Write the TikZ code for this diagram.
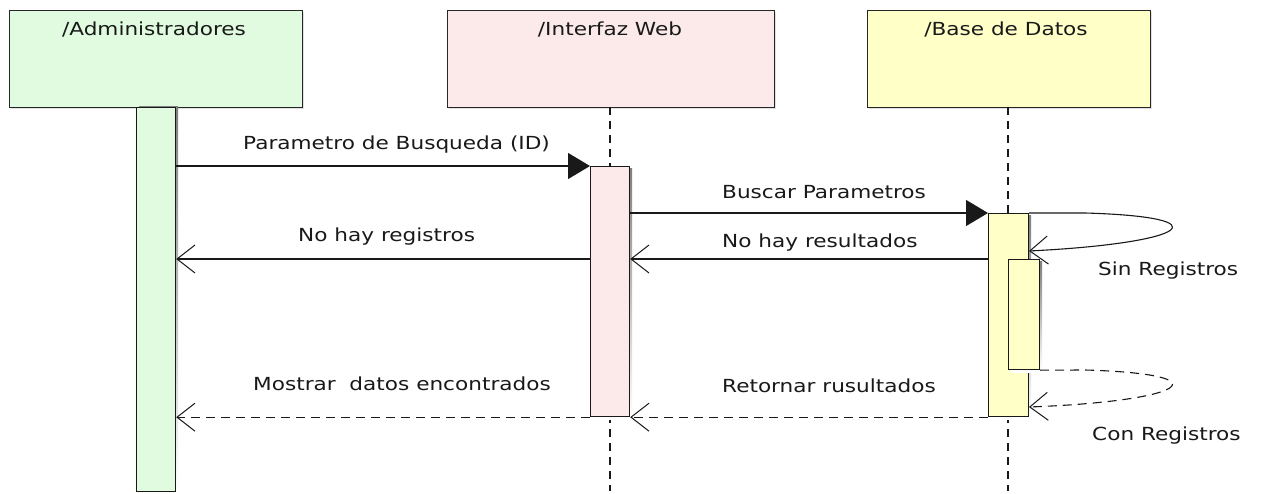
\documentclass[tikz,border=0pt]{standalone}
\usepackage{fontspec}
\setmainfont{DejaVu Sans}
\newfontfamily\lblfont[FakeStretch=1.2]{DejaVu Sans}
\usetikzlibrary{arrows.meta}
\definecolor{agreen}{RGB}{224,251,224}
\definecolor{ipink}{RGB}{252,234,234}
\definecolor{dyellow}{RGB}{255,255,200}
\definecolor{shade}{RGB}{205,205,205}
\tikzset{
  head/.style={draw=black!85, line width=1.3pt, anchor=north west, inner sep=0pt},
  bar/.style={draw=black!90, line width=1.2pt, anchor=north west, inner sep=0pt},
  lifeline/.style={black!90, line width=1.1pt, dash pattern=on 8pt off 6pt},
  call/.style={black!90, line width=1.1pt, -{Triangle[length=22pt,width=26pt]}},
  reply/.style={black!90, line width=1.1pt, -{Straight Barb[length=18pt,width=28pt,line width=1pt]}},
  ret/.style={reply, dash pattern=on 9pt off 6pt},
  lbl/.style={font=\lblfont\fontsize{18}{20}\selectfont, text=black!90, inner sep=0pt, anchor=base west},
  htxt/.style={font=\lblfont\fontsize{18}{20}\selectfont, text=black!90, inner sep=0pt, anchor=base}
}
\begin{document}
\begin{tikzpicture}[x=1pt,y=-1pt]
\useasboundingbox[fill=white] (0,0) rectangle (1261,494);
% header boxes
\fill[shade!60] (11,12) rectangle (304,109);
\fill[shade!60] (449,12) rectangle (776,109);
\fill[shade!60] (869,12) rectangle (1152,109);
\node[head, fill=agreen, minimum width=293pt, minimum height=97pt] (hA) at (9,10) {};
\node[head, fill=ipink, minimum width=327pt, minimum height=97pt] (hI) at (447,10) {};
\node[head, fill=dyellow, minimum width=283pt, minimum height=97pt] (hD) at (867,10) {};
\node[htxt] (tA) at (154,36) {/Administradores};
\node[htxt] (tI) at (610,36) {/Interfaz Web};
\node[htxt] (tD) at (1006,36) {/Base de Datos};
% lifelines
\coordinate (lI1) at (610,107);
\coordinate (lI2) at (610,491);
\coordinate (lD1) at (1008,107);
\coordinate (lD2) at (1008,491);
\draw[lifeline] (lI1) -- (lI2);
\draw[lifeline] (lD1) -- (lD2);
% activation bars
\fill[shade] (139,107) rectangle (178,492);
\node[bar, fill=agreen, minimum width=39pt, minimum height=384pt] (aA) at (136,107) {};
\fill[shade] (593,169) rectangle (632,419);
\node[bar, fill=ipink, minimum width=39pt, minimum height=250pt] (aI) at (590,166) {};
\fill[shade] (991,216) rectangle (1031,419);
\node[bar, fill=dyellow, minimum width=40pt, minimum height=203pt] (aD) at (988,213) {};
\fill[shade] (1011,262) rectangle (1042,372);
\node[bar, fill=dyellow, minimum width=31pt, minimum height=110pt] (aD2) at (1008,259) {};
% messages
\draw[call] (aA.east |- aI.north) -- (aI.north west);
\node[lbl] (m1) at (243,150) {Parametro de Busqueda (ID)};
\draw[call] (aI.east |- aD.north) -- (aD.north west);
\node[lbl] (m2) at (722,199) {Buscar Parametros};
% self loop sin registros
\coordinate (s1) at (aD.north east);
\coordinate (s2) at (1029,251);
\draw[reply] (s1) -- (1085,213) .. controls (1225,217) and (1190,243) .. (s2);
\node[lbl] (m3) at (1098,276) {Sin Registros};
\draw[reply] (aD.west |- aD2.north) -- (aI.east |- aD2.north);
\node[lbl] (m4) at (722,248) {No hay resultados};
\draw[reply] (aI.west |- aD2.north) -- (aA.east |- aD2.north);
\node[lbl] (m5) at (298,242) {No hay registros};
% self loop con registros
\coordinate (c2) at (1029,407);
\draw[ret] (aD2.south east) -- (1085,370) .. controls (1225,374) and (1190,401) .. (c2);
\node[lbl] (m6) at (1092,440) {Con Registros};
\draw[ret] (aD.south west) -- (aI.south east);
\node[lbl] (m7) at (722,392) {Retornar rusultados};
\draw[ret] (aI.south west) -- (aA.east |- aI.south);
\node[lbl] (m8) at (253,390) {Mostrar\ \ datos encontrados};
\end{tikzpicture}
\end{document}
